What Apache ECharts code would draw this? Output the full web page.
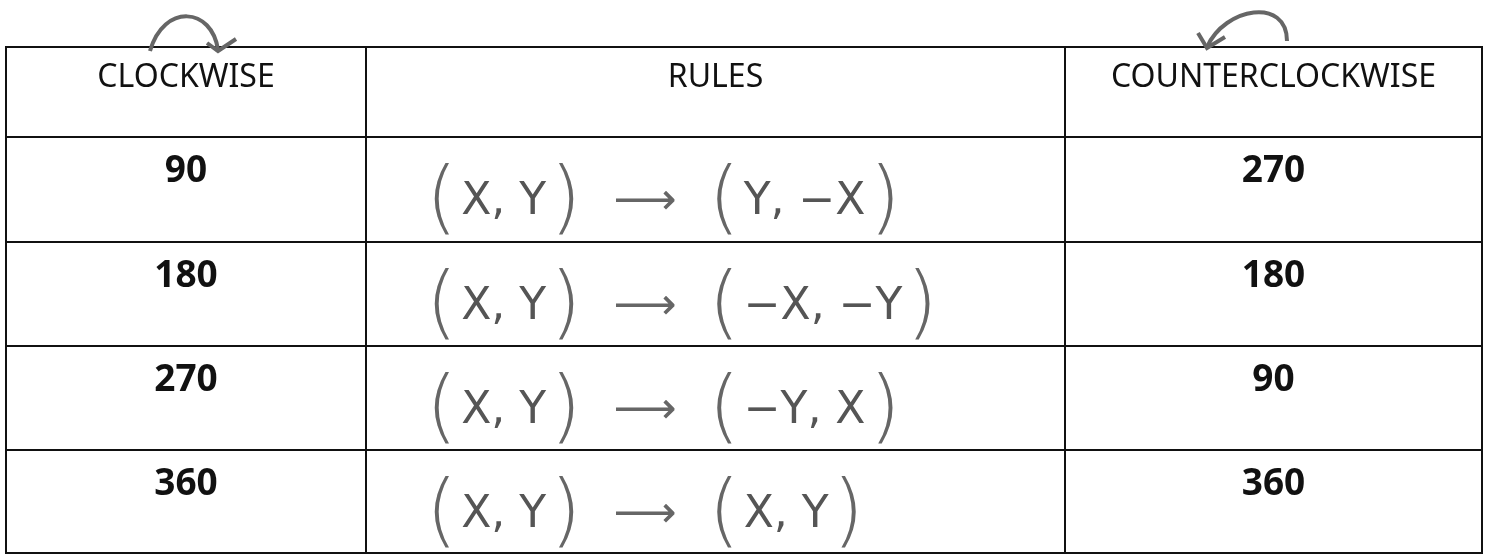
<!DOCTYPE html>
<html>
<head>
<meta charset="utf-8">
<style>
  html, body { margin: 0; padding: 0; background: #fff; }
  #table { width: 1487px; height: 556px; }
</style>
<script src="https://cdn.jsdelivr.net/npm/echarts@6/dist/echarts.min.js"></script>
</head>
<body>
<div id="table"></div>
<script>
// table contents
const headers = ['CLOCKWISE', 'RULES', 'COUNTERCLOCKWISE'];
const clockwise = ['90', '180', '270', '360'];
const rules = [
  ['X, Y', 'Y, −X'],
  ['X, Y', '−X, −Y'],
  ['X, Y', '−Y, X'],
  ['X, Y', 'X, Y']
];
const counterclockwise = ['270', '180', '90', '360'];

// layout: column / row edges in axis units (px of the table box)
const colEdges = [0, 360, 1059, 1476];
const rowEdges = [0, 90, 195, 299, 403, 506];

const hand = "'DejaVu Sans', sans-serif";
const print = "'Comic Sans MS', 'Noto Sans', sans-serif";

// one data item per cell: [col, row, kind, label]
const cells = [];
headers.forEach((h, c) => cells.push([c, 0, 'head', h]));
clockwise.forEach((v, i) => cells.push([0, i + 1, 'num', v]));
rules.forEach((v, i) => cells.push([1, i + 1, 'rule', i]));
counterclockwise.forEach((v, i) => cells.push([2, i + 1, 'num', v]));

function ruleText(i) {
  const r = rules[i];
  return '{p|(}{t|' + r[0] + '}{p|)}{a|  ⟶  }{p|(}{t|' + r[1] + '}{p|)}';
}

function renderCell(params, api) {
  const item = cells[params.dataIndex];
  const c = item[0], r = item[1], kind = item[2];
  const p0 = api.coord([colEdges[c], rowEdges[r]]);
  const p1 = api.coord([colEdges[c + 1], rowEdges[r + 1]]);
  const w = p1[0] - p0[0];
  const children = [{
    type: 'rect',
    shape: { x: p0[0], y: p0[1], width: w, height: p1[1] - p0[1] },
    style: { fill: '#fff', stroke: '#111', lineWidth: 2 }
  }];

  if (kind === 'head') {
    children.push({
      type: 'text',
      style: {
        text: item[3], x: p0[0] + w / 2, y: p0[1] + 31,
        align: 'center', verticalAlign: 'middle',
        font: '32px ' + print, fill: '#111'
      }
    });
    // little curved arrows drawn above the rotation headers
    const arrow = { stroke: '#666', lineWidth: 4, fill: null };
    if (c === 0) {
      children.push({
        type: 'bezierCurve',
        shape: { x1: p0[0] + 144, y1: p0[1] + 4, cpx1: p0[0] + 158, cpy1: p0[1] - 44,
                 cpx2: p0[0] + 206, cpy2: p0[1] - 40, x2: p0[0] + 212, y2: p0[1] + 3 },
        style: arrow
      }, {
        type: 'polyline',
        shape: { points: [[p0[0] + 201, p0[1] - 4], [p0[0] + 212, p0[1] + 4], [p0[0] + 230, p0[1] - 8]] },
        style: arrow
      });
    }
    if (c === 2) {
      children.push({
        type: 'bezierCurve',
        shape: { x1: p0[0] + 222, y1: p0[1] - 6, cpx1: p0[0] + 222, cpy1: p0[1] - 50,
                 cpx2: p0[0] + 160, cpy2: p0[1] - 40, x2: p0[0] + 142, y2: p0[1] + 0 },
        style: arrow
      }, {
        type: 'polyline',
        shape: { points: [[p0[0] + 133, p0[1] - 14], [p0[0] + 142, p0[1] + 1], [p0[0] + 160, p0[1] - 10]] },
        style: arrow
      });
    }
  } else if (kind === 'num') {
    children.push({
      type: 'text',
      style: {
        text: item[3], x: p0[0] + w / 2, y: p0[1] + 34,
        align: 'center', verticalAlign: 'middle',
        font: 'bold 37px ' + print, fill: '#111'
      }
    });
  } else {
    children.push({
      type: 'text',
      style: {
        text: ruleText(item[3]), x: p0[0] + 56, y: p0[1] + 66,
        align: 'left', verticalAlign: 'middle',
        fill: '#5a5a5a',
        rich: {
          p: { fontFamily: hand, fontSize: 80, fontWeight: 200, fill: '#666', padding: [0, 4] },
          t: { fontFamily: hand, fontSize: 44, fill: '#555' },
          a: { fontFamily: hand, fontSize: 44, fill: '#666' }
        }
      }
    });
  }
  return { type: 'group', children: children };
}

const chart = echarts.init(document.getElementById('table'), null, { renderer: 'canvas' });
chart.setOption({
  animation: false,
  backgroundColor: '#fff',
  grid: { left: 6, top: 47, width: 1476, height: 506 },
  xAxis: { type: 'value', min: 0, max: 1476, show: false },
  yAxis: { type: 'value', min: 0, max: 506, inverse: true, show: false },
  series: [{
    type: 'custom',
    coordinateSystem: 'cartesian2d',
    data: cells.map(d => [d[0], d[1]]),
    renderItem: renderCell,
    clip: false,
    silent: true
  }]
});
</script>
</body>
</html>
